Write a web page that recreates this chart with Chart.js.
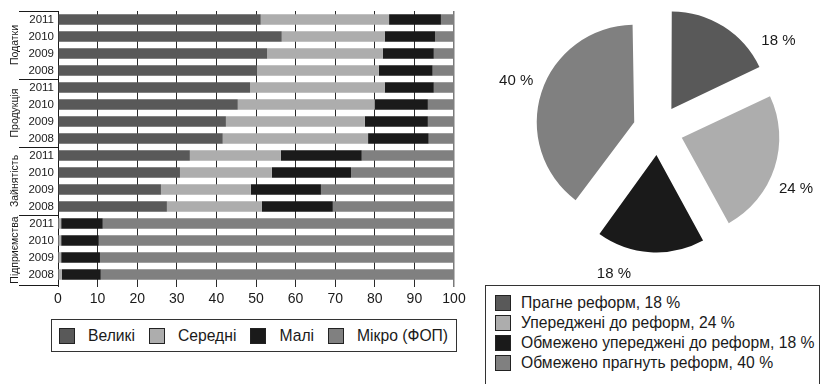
<!DOCTYPE html>
<html><head><meta charset="utf-8">
<script src="https://cdn.jsdelivr.net/npm/chart.js@4"></script>
<style>
html,body{margin:0;padding:0;background:#fff;}
#root{position:relative;width:822px;height:384px;overflow:hidden;font-family:"Liberation Sans",Arial,sans-serif;color:#1a1a1a;}
#barBox{position:absolute;left:0;top:0;width:470px;height:310px;}
#pieBox{position:absolute;left:480px;top:0;width:342px;height:280px;}
.legend{position:absolute;border:1px solid #333;box-sizing:border-box;font-size:15.7px;background:#fff;}
#barLegend{left:51px;top:319px;width:406px;height:33px;display:flex;align-items:center;padding-left:7px;white-space:nowrap;overflow:hidden;}
#barLegend .item{display:flex;align-items:center;margin-right:14px;flex:none;white-space:nowrap;}
#barLegend .sw{margin-right:13px;}
.sw{width:16px;height:16px;box-sizing:border-box;border:1px solid #222;flex:none;}
#pieLegend{left:485px;top:285px;width:335px;height:110px;padding:7px 0 0 9px;}
#pieLegend .item{display:flex;align-items:center;height:20px;white-space:nowrap;}
#pieLegend .sw{margin-right:10px;}
</style></head>
<body>
<div id="root">
  <div id="barBox"><canvas id="bar"></canvas></div>
  <div id="pieBox"><canvas id="pie"></canvas></div>
  <div id="barLegend" class="legend"></div>
  <div id="pieLegend" class="legend"></div>
</div>
<script>
// ---- data ----
const yearLabels = ['2011','2010','2009','2008','2011','2010','2009','2008','2011','2010','2009','2008','2011','2010','2009','2008'];
const groupNames = ['Податки','Продукція','Зайнятість','Підприємства'];
const seriesNames = ['Великі','Середні','Малі','Мікро (ФОП)'];
const large  = [51.2, 56.5, 52.8, 50.2, 48.5, 45.4, 42.4, 41.6, 33.3, 30.8, 26.0, 27.5, 0.1, 0.1, 0.1, 0.1];
const medium = [32.4, 26.0, 29.2, 30.8, 34.0, 34.6, 35.1, 36.7, 23.0, 23.2, 22.7, 24.0, 0.7, 0.7, 0.7, 0.9];
const small  = [13.1, 12.7, 12.9, 13.6, 12.4, 13.4, 15.9, 15.3, 20.4, 20.0, 17.7, 17.9, 10.5, 9.5, 9.8, 9.8];
const micro  = [3.3, 4.8, 5.1, 5.4, 5.1, 6.6, 6.6, 6.4, 23.3, 26.0, 33.6, 30.6, 88.7, 89.7, 89.4, 89.2];
const xTicks = [0,10,20,30,40,50,60,70,80,90,100];

const pieLabels = ['Прагне реформ','Упереджені до реформ','Обмежено упереджені до реформ','Обмежено прагнуть реформ'];
const pieValues = [18, 24, 18, 40];

// ---- styles ----
const FONT = '"Liberation Sans", Arial, sans-serif';
const TXT = '#1a1a1a';
const seriesColors = ['#595959','#adadad','#1a1a1a','#808080'];
const pieColors = ['#595959','#adadad','#1a1a1a','#808080'];
const seriesValues = [large, medium, small, micro];

Chart.defaults.font.family = FONT;
Chart.defaults.color = TXT;

const groupPlugin = {
  id: 'groups',
  afterDraw(chart) {
    const {ctx, chartArea} = chart;
    const ys = chart.scales.y;
    const n = yearLabels.length, per = n / groupNames.length;
    const bound = i => i === 0 ? chartArea.top : (i === n ? chartArea.bottom + 2 :
      (ys.getPixelForValue(i - 1) + ys.getPixelForValue(i)) / 2);
    ctx.save();
    ctx.strokeStyle = '#1a1a1a';
    ctx.lineWidth = 1;
    for (let g = 0; g <= groupNames.length; g++) {
      const yy = Math.round(bound(g * per)) + 0.5;
      ctx.beginPath();
      ctx.moveTo(19, yy);
      ctx.lineTo(chartArea.left, yy);
      ctx.stroke();
    }
    ctx.fillStyle = TXT;
    ctx.font = '10.5px ' + FONT;
    ctx.textAlign = 'center';
    ctx.textBaseline = 'middle';
    groupNames.forEach((name, g) => {
      const cy = (bound(g * per) + bound((g + 1) * per)) / 2;
      ctx.save();
      ctx.translate(15, cy);
      ctx.rotate(-Math.PI / 2);
      ctx.fillText(name, 0, 0);
      ctx.restore();
    });
    ctx.restore();
  }
};

new Chart(document.getElementById('bar'), {
  type: 'bar',
  data: {
    labels: yearLabels,
    datasets: seriesNames.map((name, i) => ({
      label: name,
      data: seriesValues[i],
      backgroundColor: seriesColors[i],
      borderWidth: 0,
      barPercentage: 0.62,
      categoryPercentage: 1
    }))
  },
  options: {
    indexAxis: 'y',
    responsive: true,
    maintainAspectRatio: false,
    animation: false,
    layout: {padding: {top: 11, right: 16, left: 0, bottom: 0}},
    plugins: {legend: {display: false}, tooltip: {enabled: false}},
    scales: {
      x: {
        stacked: true, min: 0, max: 100,
        afterBuildTicks: s => { s.ticks = xTicks.map(v => ({value: v})); },
        ticks: {color: TXT, font: {size: 14}, padding: 4, maxRotation: 0, autoSkip: false},
        grid: {color: c => (c.tick && c.tick.value === 100) ? '#7a7a7a' : '#2a2a2a', lineWidth: c => (c.tick && c.tick.value === 100) ? 1.5 : 1, tickLength: 4, drawTicks: true},
        border: {display: false},
        afterFit: s => { s.height = 27; }
      },
      y: {
        stacked: true,
        ticks: {color: TXT, font: {size: 11.5}, padding: 4, autoSkip: false},
        grid: {display: false, drawTicks: false},
        border: {display: true, color: '#1a1a1a'},
        afterFit: s => { s.width = 58; }
      }
    }
  },
  plugins: [groupPlugin]
});

const labelShiftDeg = [21, 5, 13.5, 1];
const pieLabelPlugin = {
  id: 'pieLabels',
  afterDatasetUpdate(chart, args) {
    // keep exploded slices at the common radius
    args.meta.data.forEach(arc => {
      const off = ((arc.options && arc.options.offset) || 0) / 4;
      const fix = 1 - Math.sin(Math.min(Math.PI, arc.circumference || 0));
      arc.outerRadius = Math.max(arc.outerRadius - off * fix, 0);
    });
  },
  afterDraw(chart) {
    const {ctx} = chart;
    const meta = chart.getDatasetMeta(0);
    ctx.save();
    ctx.fillStyle = TXT;
    ctx.font = '15px ' + FONT;
    ctx.textAlign = 'center';
    ctx.textBaseline = 'middle';
    meta.data.forEach((arc, i) => {
      const a = (arc.startAngle + arc.endAngle) / 2 + labelShiftDeg[i] * Math.PI / 180;
      const d = 150;
      ctx.fillText(pieValues[i] + ' %', arc.x + d * Math.cos(a), arc.y + d * Math.sin(a));
    });
    ctx.restore();
  }
};

new Chart(document.getElementById('pie'), {
  type: 'pie',
  data: {
    labels: pieLabels,
    datasets: [{data: pieValues, backgroundColor: pieColors, borderWidth: 0, offset: 100, radius: 97.5}]
  },
  options: {
    responsive: true,
    maintainAspectRatio: false,
    animation: false,
    radius: 97.5,
    layout: {padding: {left: 14, right: 0, top: 0, bottom: 20}},
    plugins: {legend: {display: false}, tooltip: {enabled: false}}
  },
  plugins: [pieLabelPlugin]
});

// ---- legends (HTML text) ----
const bl = document.getElementById('barLegend');
seriesNames.forEach((n, i) => {
  const it = document.createElement('div'); it.className = 'item';
  const sw = document.createElement('div'); sw.className = 'sw'; sw.style.background = seriesColors[i];
  const t = document.createElement('span'); t.textContent = n;
  it.appendChild(sw); it.appendChild(t); bl.appendChild(it);
});
const pl = document.getElementById('pieLegend');
pieLabels.forEach((n, i) => {
  const it = document.createElement('div'); it.className = 'item';
  const sw = document.createElement('div'); sw.className = 'sw'; sw.style.background = pieColors[i];
  const t = document.createElement('span'); t.textContent = n + ', ' + pieValues[i] + ' %';
  it.appendChild(sw); it.appendChild(t); pl.appendChild(it);
});
</script>
</body></html>
